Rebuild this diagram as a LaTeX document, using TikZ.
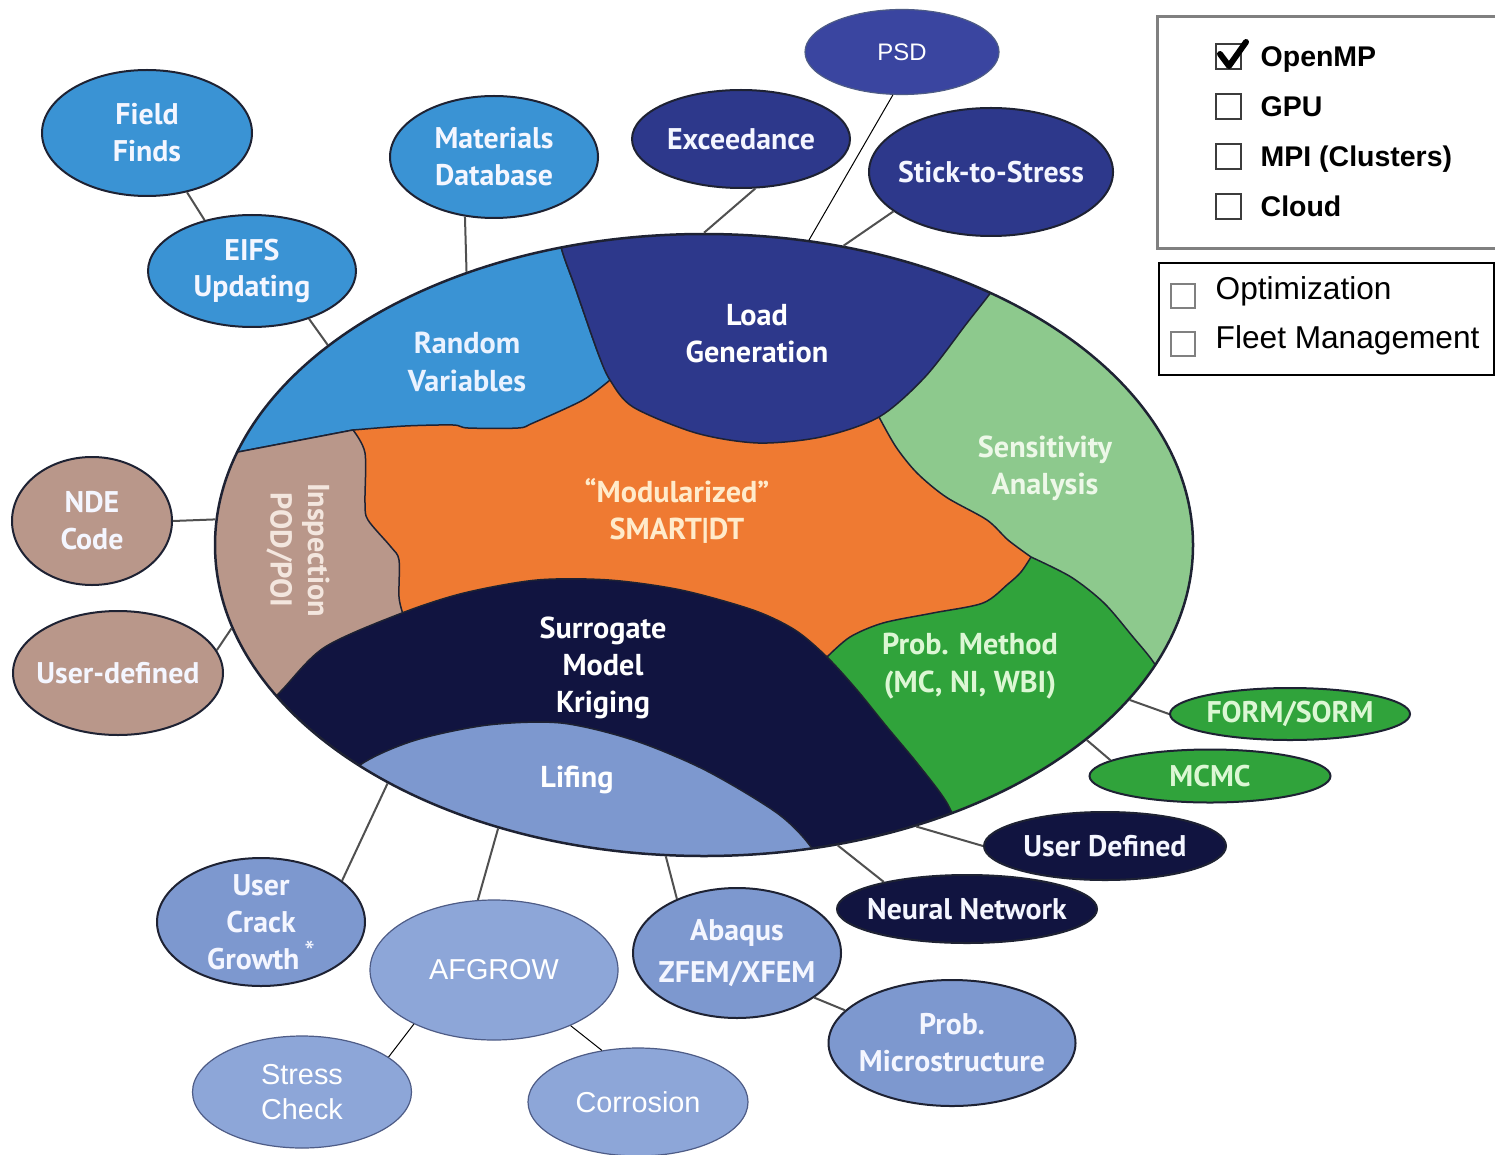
\documentclass[tikz,border=0pt]{standalone}
\usepackage{fontspec}
\setmainfont{PT Sans}
\newfontfamily\arialfont{Liberation Sans}
\usetikzlibrary{shapes.geometric}

\definecolor{rvblue}{HTML}{3A93D4}
\definecolor{loadblue}{HTML}{2D388B}
\definecolor{psdblue}{HTML}{3A45A0}
\definecolor{sensgreen}{HTML}{8DC98D}
\definecolor{probgreen}{HTML}{30A33B}
\definecolor{navy}{HTML}{111440}
\definecolor{lifing}{HTML}{7D98CF}
\definecolor{lifinglight}{HTML}{8DA6D8}
\definecolor{smartorange}{HTML}{EF7A32}
\definecolor{inspecttan}{HTML}{B9978A}
\definecolor{rim}{HTML}{1E2233}
\definecolor{softrim}{HTML}{4E5C86}
\definecolor{linkgray}{HTML}{505050}
\definecolor{boxgray}{HTML}{808080}
\definecolor{checkgray}{HTML}{3C3C3C}
\definecolor{bubblewhite}{HTML}{F4F6FF}
\definecolor{rvtext}{HTML}{EAF2FF}
\definecolor{smarttext}{HTML}{FFEBCB}
\definecolor{senstext}{HTML}{EDF8E8}
\definecolor{probtext}{HTML}{DCF7D4}
\definecolor{insptext}{HTML}{F3E6DE}

\tikzset{
  bubble/.style={ellipse, draw=rim, line width=0.2mm, inner sep=0pt},
  bubbletext/.style={align=center, inner sep=0pt, text=bubblewhite,
    font=\bfseries\fontsize{8.5}{10.5}\selectfont},
  ariallabel/.style={font=\arialfont\fontsize{8.2}{9.8}\selectfont, text=white},
  tag/.style={align=center, inner sep=0pt, font=\bfseries\fontsize{8.6}{10.6}\selectfont},
  region/.style={draw=rim, line width=0.15mm},
  link/.style={draw=linkgray, line width=0.2mm},
  thinlink/.style={draw=black, line width=0.1mm},
  tickbox/.style={draw=checkgray, line width=0.2mm, minimum size=2.5mm, inner sep=0pt},
  legendbold/.style={anchor=base west, inner sep=0pt, font=\arialfont\bfseries\fontsize{8.1}{9.5}\selectfont},
  legendplain/.style={anchor=base west, inner sep=0pt, font=\arialfont\fontsize{9}{11}\selectfont}
}

% \bubble[text style]{name}{position}{width}{height}{shape style}{text}
\newcommand{\bubble}[7][]{
\node[bubble, minimum width=#4, minimum height=#5, #6] (#2) at #3 {};
\node[bubbletext, #1] (#2-text) at (#2) {#7};
}

\begin{document}
\begin{tikzpicture}[x=0.1mm, y=-0.1mm]
\clip[use as bounding box] (0,0) rectangle (1495,1154);
\fill[white] (0,0) rectangle (1495,1154);

% the modules inside the big ellipse
\begin{scope}
\clip (704,545) ellipse [x radius=48.9mm, y radius=31.1mm];
\fill[smartorange] (150,150) rectangle (1250,950);
\filldraw[region, fill=probgreen] plot[smooth] coordinates {(1031,557) (1021,572) (1008,584) (983,603) (933,613) (883,623) (850,637) (827,657)} -- (860,760) -- (900,900) -- (1250,900) -- (1250,500) -- cycle;
\filldraw[region, fill=sensgreen] plot[smooth] coordinates {(879,417) (896,447) (917,473) (946,497) (987,520) (1008,540) (1031,557)} -- plot[smooth] coordinates {(1031,557) (1071,577) (1104,603) (1133,637) (1154,663) (1175,700)} -- (1250,700) -- (1250,200) -- (1010,200) -- (994,288) -- cycle;
\filldraw[region, fill=rvblue] (150,475) -- (238,452) -- (353,430) -- plot[smooth] coordinates {(353,430) (405,426) (453,425) (468,428) (518,428) (533,423) (583,400) (610,380)} -- plot[smooth] coordinates {(610,380) (598,353) (575,287) (560,243) (550,180)} -- (550,150) -- (150,150) -- cycle;
\filldraw[region, fill=loadblue] plot[smooth] coordinates {(550,180) (560,243) (575,287) (598,353) (610,380) (633,407) (696,433) (758,443) (821,437) (879,417) (925,377) (967,323) (994,288) (1010,260)} -- (1010,150) -- (550,150) -- cycle;
\filldraw[region, fill=inspecttan] (150,430) -- (238,452) -- (353,430) -- plot[smooth] coordinates {(353,430) (365,453) (365,503) (368,520) (391,547) (399,560) (399,597) (403,614)} -- (300,700) -- (150,700) -- cycle;
\filldraw[region, fill=navy] plot[smooth] coordinates {(240,735) (282,690) (325,647) (402,613) (464,593) (537,580) (609,580) (681,590) (753,610) (795,630) (827,657) (857,690) (887,727) (917,763) (947,803) (965,845)} -- (965,950) -- (200,950) -- cycle;
\filldraw[region, fill=lifing] plot[smooth] coordinates {(320,800) (363,763) (416,740) (488,725) (561,723) (633,740) (705,770) (777,813) (811,847) (825,880)} -- (825,950) -- (320,950) -- cycle;
\end{scope}
\node[ellipse, draw=rim, line width=0.25mm, minimum width=97.8mm, minimum height=62.2mm, inner sep=0pt] (core) at (704,545) {};

\node[tag, text=rvtext] (rv) at (467,362) {Random\\Variables};
\node[tag, text=white] (load) at (757,334) {Load\\Generation};
\node[tag, text=smarttext] (smart) at (677,511) {``Modularized''\\SMART|DT};
\node[tag, text=senstext] (sens) at (1045,468) {Sensitivity\\Analysis};
\node[tag, text=probtext] (prob) at (970,666) {Prob. Method\\(MC, NI, WBI)};
\node[tag, text=white] (surr) at (603,668) {Surrogate\\Model\\Kriging};
\node[tag, text=white] (lif) at (577,780) {Lifing};
\node[tag, text=insptext, rotate=-90] (insp) at (298,550) {Inspection\\POD/POI};

% satellites
\bubble{field}{(147,133)}{21mm}{12.6mm}{fill=rvblue}{Field\\Finds}
\bubble{eifs}{(252,271)}{20.8mm}{11.2mm}{fill=rvblue}{EIFS\\Updating}
\bubble{materials}{(494,157)}{20.8mm}{12.2mm}{fill=rvblue}{Materials\\Database}
\bubble{exceed}{(741,139)}{21.8mm}{9.8mm}{fill=loadblue}{Exceedance}
\bubble[ariallabel, font=\arialfont\fontsize{6.8}{8}\selectfont]{psd}{(902,52)}{19.4mm}{8.5mm}{fill=psdblue, draw=softrim, line width=0.12mm}{PSD}
\bubble{stick}{(991,172)}{24.4mm}{12.8mm}{fill=loadblue}{Stick-to-Stress}
\bubble{nde}{(92,521)}{16mm}{12.8mm}{fill=inspecttan}{NDE\\Code}
\bubble{userdef}{(118,673)}{21mm}{12.4mm}{fill=inspecttan}{User-defined}
\bubble[text=probtext]{form}{(1290,714)}{24mm}{5.2mm}{fill=probgreen}{FORM/SORM}
\bubble[text=probtext]{mcmc}{(1210,776)}{24.1mm}{5.3mm}{fill=probgreen}{MCMC}
\bubble{ownmodel}{(1105,846)}{24.2mm}{6.8mm}{fill=navy}{User Defined}
\bubble{neural}{(967,909)}{26mm}{6.8mm}{fill=navy}{Neural Network}
\bubble{crack}{(261,922)}{20.8mm}{12.8mm}{fill=lifing}{User\\Crack\\Growth\,\raisebox{0.45ex}{\mdseries *}}
\bubble[ariallabel]{afgrow}{(494,970)}{24.8mm}{14mm}{fill=lifinglight, draw=softrim, line width=0.12mm}{AFGROW}
\bubble{abaqus}{(737,953)}{20.8mm}{13mm}{fill=lifing}{Abaqus\\[0.5mm]ZFEM/XFEM}
\bubble{micro}{(952,1043)}{24.7mm}{12.6mm}{fill=lifing}{Prob.\\Microstructure}
\bubble[ariallabel]{stresscheck}{(302,1092)}{21.9mm}{11.2mm}{fill=lifinglight, draw=softrim, line width=0.12mm}{Stress\\Check}
\bubble[ariallabel]{corrosion}{(638,1102)}{22mm}{10.8mm}{fill=lifinglight, draw=softrim, line width=0.12mm}{Corrosion}

% connectors
\draw[link] (field.-56) -- (eifs.133);
\draw[link] (eifs.-40) -- (core.152);
\draw[link] (materials.-116) -- (core.131.5);
\draw[link] (exceed.-74) -- (core.90.2);
\draw[thinlink] (psd.-102) -- (core.71.4);
\draw[link] (stick.-158) -- (core.65.6);
\draw[link] (nde.0) -- (core.177.4);
\draw[link] (userdef.13) -- (core.190.9);
\draw[link] (form.180) -- (core.-20.7);
\draw[link] (mcmc.171) -- (core.-27.8);
\draw[link] (ownmodel.180) -- (core.-53.7);
\draw[link] (neural.162) -- (core.-66.8);
\draw[link] (crack.27) -- (core.217.9);
\draw[link] (afgrow.103) -- (core.234);
\draw[link] (abaqus.138) -- (core.263.8);
\draw[link] (abaqus.-30) -- (micro.163);
\draw[thinlink] (afgrow.214) -- (stresscheck.22);
\draw[thinlink] (afgrow.-36) -- (corrosion.125);

% parallel computing options
\draw[boxgray, line width=0.3mm] (1157,17) rectangle (1520,249);
\foreach \name/\y/\txt in {omp/67/OpenMP, gpu/117/GPU, mpi/167/MPI (Clusters), cloud/217/Cloud} {
  \node[tickbox] (\name-box) at (1228,\y-10) {};
  \node[legendbold] (\name) at (1260,\y) {\txt};
}
\draw[line width=0.6mm, line join=round, line cap=round] (1220,54) -- (1229,66) -- (1246,42);

% other options
\draw[black, line width=0.2mm] (1159,263) rectangle (1494,375);
\node[tickbox, draw=gray, line width=0.15mm, minimum size=2.4mm] (opt-box) at (1183,296) {};
\node[legendplain] (opt) at (1215,300) {Optimization};
\node[tickbox, draw=gray, line width=0.15mm, minimum size=2.4mm] (fleet-box) at (1183,344) {};
\node[legendplain] (fleet) at (1215,348) {Fleet Management};
\end{tikzpicture}
\end{document}
